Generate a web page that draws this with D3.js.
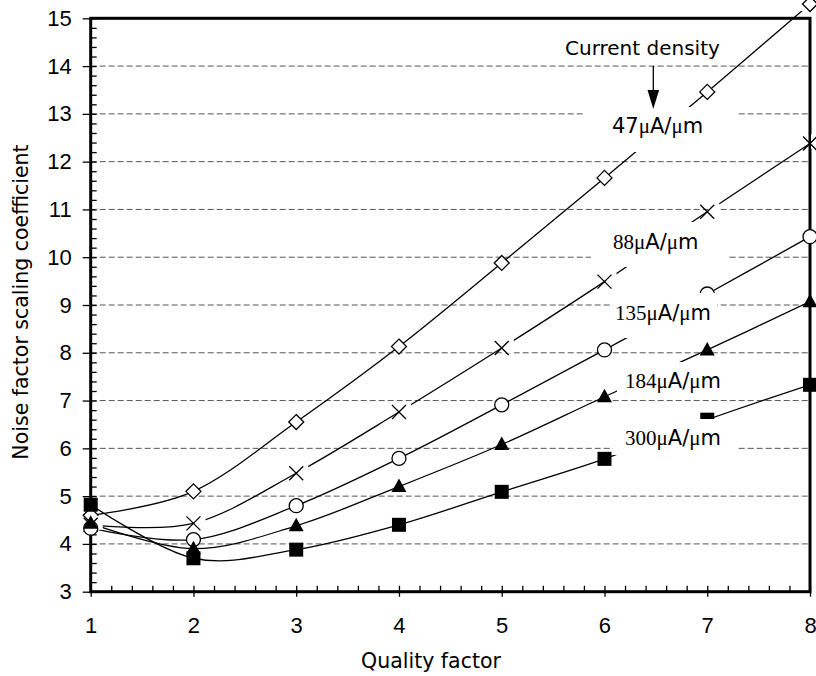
<!DOCTYPE html>
<html>
<head>
<meta charset="utf-8">
<script src="https://cdn.jsdelivr.net/npm/d3@7"></script>
<style>
  body { margin: 0; background: #fff; }
  text { fill: #000; }
</style>
</head>
<body>
<svg width="816" height="676"></svg>
<script>
// values
const qualityFactor = [1, 2, 3, 4, 5, 6, 7, 8];
const nf47  = [4.60, 5.10, 6.55, 8.13, 9.88, 11.66, 13.46, 15.30];
const nf88  = [4.40, 4.43, 5.48, 6.76, 8.10, 9.49, 10.95, 12.38];
const nf135 = [4.33, 4.09, 4.80, 5.79, 6.91, 8.06, 9.23, 10.43];
const nf184 = [4.43, 3.90, 4.38, 5.20, 6.08, 7.08, 8.06, 9.07];
const nf300 = [4.82, 3.70, 3.88, 4.40, 5.09, 5.78, 6.60, 7.33];
const densities = ["47", "88", "135", "184", "300"];
const shapes = ["diamond", "cross", "circle", "triangle", "square"];
const yTicks = [3, 4, 5, 6, 7, 8, 9, 10, 11, 12, 13, 14, 15];

const series = [nf47, nf88, nf135, nf184, nf300].map((vals, i) => ({
    density: densities[i],
    shape: shapes[i],
    points: qualityFactor.map((q, j) => ({ q: q, v: vals[j] }))
}));

const svg = d3.select("svg");
const plotL = 90.7, plotR = 810, plotT = 18.3, plotB = 591.7;

const x = d3.scaleLinear().domain([1, 8]).range([plotL, plotR]);
const y = d3.scaleLinear().domain([3, 15]).range([plotB, plotT]);

// dashed grid
svg.append("g")
    .selectAll("line")
    .data(yTicks.filter(d => d > 3 && d < 15))
    .join("line")
    .attr("x1", plotL).attr("x2", plotR)
    .attr("y1", d => y(d)).attr("y2", d => y(d))
    .attr("stroke", "#555")
    .attr("stroke-width", 1)
    .attr("stroke-dasharray", "6,3");

// axes
const tickFont = g => g.selectAll("text")
    .attr("font-family", "'Liberation Sans', Arial, sans-serif")
    .attr("font-size", 22)
    .attr("fill", "#000");

svg.append("g")
    .attr("transform", `translate(${plotL},0)`)
    .call(d3.axisLeft(y).tickValues(yTicks).tickSize(8).tickPadding(11).tickFormat(d3.format("d")))
    .call(g => g.select(".domain").remove())
    .call(g => g.selectAll("line").attr("stroke-width", 1.3))
    .call(tickFont);

svg.append("g")
    .attr("transform", `translate(${plotL},0)`)
    .call(d3.axisRight(y).tickValues(d3.range(3, 15.01, 0.2)).tickSize(6).tickFormat(""))
    .call(g => g.select(".domain").remove())
    .call(g => g.selectAll("line").attr("stroke-width", 1.3));

svg.append("g")
    .attr("transform", `translate(0,${plotB})`)
    .call(d3.axisBottom(x).tickValues(qualityFactor).tickSize(5).tickPadding(21).tickFormat(d3.format("d")))
    .call(g => g.select(".domain").remove())
    .call(g => g.selectAll("line").attr("stroke-width", 1.3))
    .call(tickFont);

svg.append("g")
    .attr("transform", `translate(0,${plotB})`)
    .call(d3.axisTop(x).tickValues(d3.range(1, 8.01, 0.2)).tickSize(6).tickFormat(""))
    .call(g => g.select(".domain").remove())
    .call(g => g.selectAll("line").attr("stroke-width", 1.3));

// frame
svg.append("rect")
    .attr("x", plotL).attr("y", plotT)
    .attr("width", plotR - plotL).attr("height", plotB - plotT)
    .attr("fill", "none")
    .attr("stroke", "#000")
    .attr("stroke-width", 3);

// curves
svg.append("defs").append("clipPath").attr("id", "plotclip")
    .append("rect")
    .attr("x", plotL).attr("y", 11)
    .attr("width", plotR - plotL).attr("height", plotB - 11);

const line = d3.line()
    .x(d => x(d.q))
    .y(d => y(d.v))
    .curve(d3.curveCatmullRom.alpha(0));

svg.append("g")
    .attr("clip-path", "url(#plotclip)")
    .selectAll("path")
    .data(series)
    .join("path")
    .attr("d", d => line(d.points))
    .attr("fill", "none")
    .attr("stroke", "#000")
    .attr("stroke-width", 1.3);

// markers
const drawMarker = (g, shape) => {
    if (shape === "diamond") {
        g.append("path").attr("d", "M0,-7.5L7.5,0L0,7.5L-7.5,0Z")
            .attr("fill", "#fff").attr("stroke", "#000").attr("stroke-width", 1.3);
    } else if (shape === "cross") {
        g.append("rect").attr("x", 1).attr("y", -9).attr("width", 11).attr("height", 14)
            .attr("fill", "#fff");
        g.append("path").attr("d", "M-7,-7L7,7M-7,7L7,-7")
            .attr("stroke", "#000").attr("stroke-width", 1.3);
    } else if (shape === "circle") {
        g.append("circle").attr("r", 7)
            .attr("fill", "#fff").attr("stroke", "#000").attr("stroke-width", 1.3);
    } else if (shape === "triangle") {
        g.append("path").attr("d", "M0,-8L7.5,5.5L-7.5,5.5Z").attr("fill", "#000");
    } else {
        g.append("rect").attr("x", -7).attr("y", -7).attr("width", 14).attr("height", 14)
            .attr("fill", "#000");
    }
};

series.forEach(s => {
    svg.append("g")
        .selectAll("g")
        .data(s.points)
        .join("g")
        .attr("transform", d => `translate(${x(d.q)},${y(d.v)})`)
        .each(function () { drawMarker(d3.select(this), s.shape); });
});

// density labels on white boxes
const sans = "'DejaVu Sans', Verdana, sans-serif";
const serif = "'Liberation Serif', 'Times New Roman', serif";
const labelBoxes = [
    { box: [585, 107, 738, 152], tx: 612, ty: 133, numFont: sans },
    { box: [591, 222, 727, 267], tx: 613, ty: 249, numFont: serif },
    { box: [613, 293, 717, 338], tx: 615, ty: 320, numFont: serif },
    { box: [617, 362, 735, 393], tx: 625, ty: 388, numFont: serif },
    { box: [613, 419, 738, 455], tx: 625, ty: 445, numFont: serif }
];

labelBoxes.forEach((l, i) => {
    svg.append("rect")
        .attr("x", l.box[0]).attr("y", l.box[1])
        .attr("width", l.box[2] - l.box[0]).attr("height", l.box[3] - l.box[1])
        .attr("fill", "#fff");
    const t = svg.append("text")
        .attr("x", l.tx).attr("y", l.ty)
        .attr("font-size", 21);
    t.append("tspan").attr("font-family", l.numFont).text(densities[i]);
    t.append("tspan").attr("font-family", serif).text("\u03bc");
    t.append("tspan").attr("font-family", sans).text("A/");
    t.append("tspan").attr("font-family", serif).text("\u03bc");
    t.append("tspan").attr("font-family", sans).text("m");
});

// "Current density" pointer
svg.append("text")
    .attr("x", 565).attr("y", 55)
    .attr("font-family", sans)
    .attr("font-size", 20)
    .text("Current density");

svg.append("line")
    .attr("x1", 653.3).attr("x2", 653.3)
    .attr("y1", 66).attr("y2", 92)
    .attr("stroke", "#000").attr("stroke-width", 1.3);

svg.append("path")
    .attr("d", "M647.5,90L659.1,90L653.3,109Z")
    .attr("fill", "#000");

// axis titles
svg.append("text")
    .attr("x", 431).attr("y", 668)
    .attr("text-anchor", "middle")
    .attr("font-family", sans)
    .attr("font-size", 20.5)
    .text("Quality factor");

svg.append("text")
    .attr("transform", "translate(28,302) rotate(-90)")
    .attr("text-anchor", "middle")
    .attr("font-family", sans)
    .attr("font-size", 20.5)
    .text("Noise factor scaling coefficient");
</script>
</body>
</html>
